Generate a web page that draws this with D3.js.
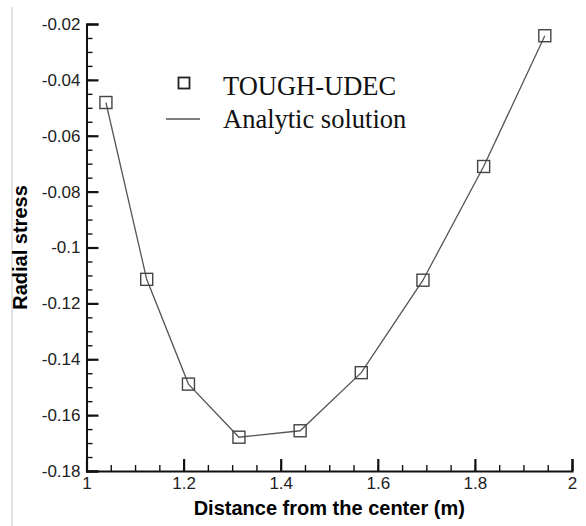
<!DOCTYPE html>
<html>
<head>
<meta charset="utf-8">
<script src="https://cdn.jsdelivr.net/npm/d3@7"></script>
<style>
  body { margin: 0; background: #fff; }
  svg { display: block; }
</style>
</head>
<body>
<svg id="chart" width="586" height="526"></svg>
<script>
// distance from center (m) and radial stress
const distance = [1.040, 1.124, 1.210, 1.314, 1.440, 1.566, 1.693, 1.818, 1.944];
const toughUdec = [-0.0481, -0.1114, -0.1489, -0.1679, -0.1656, -0.1448, -0.1117, -0.0710, -0.0242];
const analytic = [-0.0481, -0.1114, -0.1489, -0.1679, -0.1656, -0.1448, -0.1117, -0.0710, -0.0242];
const xTicks = [1, 1.2, 1.4, 1.6, 1.8, 2];
const yTicks = [-0.02, -0.04, -0.06, -0.08, -0.1, -0.12, -0.14, -0.16, -0.18];

const svg = d3.select("#chart");
const margin = { top: 24, right: 14, bottom: 55, left: 86.5 };
const width = 586 - margin.left - margin.right;
const height = 526 - margin.top - margin.bottom;

// light frame edge on the left of the picture
svg.append("line")
    .attr("x1", 12).attr("x2", 12).attr("y1", 7).attr("y2", 526)
    .attr("stroke", "#c8c8c8").attr("stroke-width", 1);

const x = d3.scaleLinear().domain([1, 2]).range([0, width]);
const y = d3.scaleLinear().domain([-0.18, -0.02]).range([height, 0]);

const g = svg.append("g")
    .attr("transform", `translate(${margin.left},${margin.top})`);

// plain hyphen minus, like the original figure
const fmt = d => String(+(+d).toFixed(2));

// minor ticks
const xMinor = d3.range(1, 2.0001, 0.05);
const yMinor = d3.range(-0.18, -0.0199, 0.005);

g.append("g")
    .attr("transform", `translate(0,${height})`)
    .call(d3.axisBottom(x).tickValues(xMinor).tickSize(-6).tickFormat(""))
    .call(a => a.select(".domain").remove())
    .selectAll("line").attr("stroke", "#111").attr("stroke-width", 1.4);

g.append("g")
    .call(d3.axisLeft(y).tickValues(yMinor).tickSize(-6).tickFormat(""))
    .call(a => a.select(".domain").remove())
    .selectAll("line").attr("stroke", "#111").attr("stroke-width", 1.4);

// major axes
const xAxis = g.append("g")
    .attr("transform", `translate(0,${height})`)
    .call(d3.axisBottom(x).tickValues(xTicks).tickSize(-12).tickPadding(8).tickFormat(fmt));
xAxis.select(".domain").attr("stroke", "#111").attr("stroke-width", 2);
xAxis.selectAll("line").attr("stroke", "#111").attr("stroke-width", 2.2);
xAxis.selectAll("text")
    .attr("y", 6).attr("dy", "0.71em")
    .style("font-family", "Arial, 'Liberation Sans', sans-serif")
    .style("font-size", "17px").attr("fill", "#222");

const yAxis = g.append("g")
    .call(d3.axisLeft(y).tickValues(yTicks).tickSize(-12).tickPadding(8).tickFormat(fmt));
yAxis.select(".domain").attr("stroke", "#111").attr("stroke-width", 2);
yAxis.selectAll("line").attr("stroke", "#111").attr("stroke-width", 2.2);
yAxis.selectAll("text")
    .attr("x", -6)
    .style("font-family", "Arial, 'Liberation Sans', sans-serif")
    .style("font-size", "17px").attr("fill", "#222");

// axis titles
svg.append("text")
    .attr("x", margin.left + width / 2).attr("y", 515)
    .attr("text-anchor", "middle")
    .style("font-family", "Arial, 'Liberation Sans', sans-serif")
    .style("font-size", "20px").style("font-weight", "bold")
    .text("Distance from the center (m)");

svg.append("text")
    .attr("transform", `translate(27,${margin.top + height / 2}) rotate(-90)`)
    .attr("text-anchor", "middle")
    .style("font-family", "Arial, 'Liberation Sans', sans-serif")
    .style("font-size", "20px").style("font-weight", "bold")
    .text("Radial stress");

// analytic solution line
const line = d3.line()
    .x((d, i) => x(distance[i]))
    .y(d => y(d));

g.append("path")
    .datum(analytic)
    .attr("fill", "none")
    .attr("stroke", "#555")
    .attr("stroke-width", 1.3)
    .attr("d", line);

// TOUGH-UDEC squares
const s = 12;
g.selectAll(".pt")
    .data(toughUdec)
    .enter().append("rect")
    .attr("class", "pt")
    .attr("x", (d, i) => x(distance[i]) - s / 2)
    .attr("y", d => y(d) - s / 2)
    .attr("width", s).attr("height", s)
    .attr("fill", "none")
    .attr("stroke", "#444")
    .attr("stroke-width", 1.4);

// legend
const lg = svg.append("g");
lg.append("rect")
    .attr("x", 178.5).attr("y", 77.5).attr("width", 11).attr("height", 11)
    .attr("fill", "none").attr("stroke", "#222").attr("stroke-width", 1.8);
lg.append("line")
    .attr("x1", 166).attr("x2", 200).attr("y1", 119).attr("y2", 119)
    .attr("stroke", "#555").attr("stroke-width", 1.3);
lg.append("text")
    .attr("x", 223).attr("y", 95)
    .style("font-family", "'Times New Roman', 'Liberation Serif', serif")
    .style("font-size", "26.5px").attr("fill", "#111")
    .text("TOUGH-UDEC");
lg.append("text")
    .attr("x", 223).attr("y", 128)
    .style("font-family", "'Times New Roman', 'Liberation Serif', serif")
    .style("font-size", "26.5px").attr("fill", "#111")
    .text("Analytic solution");
</script>
</body>
</html>
